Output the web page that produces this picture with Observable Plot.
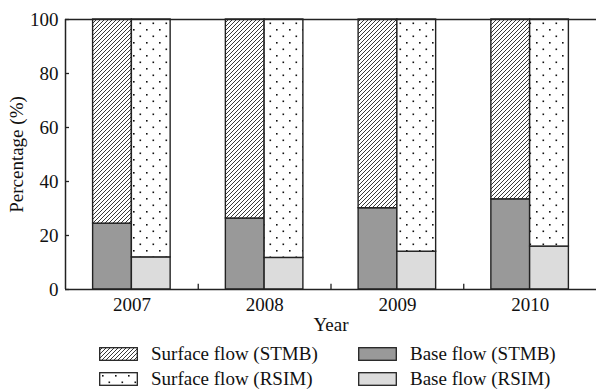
<!DOCTYPE html>
<html>
<head>
<meta charset="utf-8">
<script src="https://cdn.jsdelivr.net/npm/d3@7"></script>
<script src="https://cdn.jsdelivr.net/npm/@observablehq/plot@0.6"></script>
<style>
  html, body { margin: 0; padding: 0; background: #fff; }
  body { width: 596px; height: 389px; overflow: hidden; font-family: "Liberation Serif", "DejaVu Serif", serif; }
  #legend { position: relative; height: 53px; font-size: 19px; color: #111; }
  .item { position: absolute; display: flex; align-items: center; height: 22px; }
  .item svg { margin-right: 13px; }
</style>
</head>
<body>
<div id="chart"></div>
<div id="legend"></div>
<script>
// ---- data ----
const years = [2007, 2008, 2009, 2010];
const baseSTMB = [24.4, 26.3, 30.1, 33.4];
const baseRSIM = [11.9, 11.7, 14.0, 15.9];
const yTicks = [0, 20, 40, 60, 80, 100];
const seriesNames = ["Surface flow (STMB)", "Base flow (STMB)", "Surface flow (RSIM)", "Base flow (RSIM)"];

// build table
const rows = [];
years.forEach((yr, i) => {
  rows.push({year: yr, model: "STMB", part: "base", y1: 0, y2: baseSTMB[i]});
  rows.push({year: yr, model: "STMB", part: "surface", y1: baseSTMB[i], y2: 100});
  rows.push({year: yr, model: "RSIM", part: "base", y1: 0, y2: baseRSIM[i]});
  rows.push({year: yr, model: "RSIM", part: "surface", y1: baseRSIM[i], y2: 100});
});

const BW = 0.292;          // bar width in band units (style)
const X0 = years[0] - 0.5; // left edge of plot
const fills = {
  "STMB-surface": "url(#hatch)",
  "STMB-base": "#999999",
  "RSIM-surface": "url(#dots)",
  "RSIM-base": "#dcdcdc"
};
const ink = "#222";

const chart = Plot.plot({
  width: 596,
  height: 336,
  marginLeft: 65,
  marginRight: 0,
  marginTop: 19,
  marginBottom: 47,
  style: {fontFamily: "Liberation Serif, serif", fontSize: "19px", color: "#111", background: "#fff"},
  x: {type: "linear", domain: [X0, years[years.length - 1] + 0.5]},
  y: {type: "linear", domain: [0, 100]},
  marks: [
    Plot.rectY(rows, {
      x1: d => d.model === "STMB" ? d.year - BW : d.year,
      x2: d => d.model === "STMB" ? d.year : d.year + BW,
      y1: "y1", y2: "y2",
      fill: d => fills[d.model + "-" + d.part],
      stroke: ink, strokeWidth: 1.4
    }),
    // frame lines
    Plot.ruleY([0, 100], {stroke: ink, strokeWidth: 1.5}),
    Plot.ruleX([X0], {stroke: ink, strokeWidth: 1.5}),
    // boundary ticks between years (inward)
    Plot.ruleX(years.slice(0, -1).map(y => y + 0.5), {y1: 0, y2: 1.9, stroke: ink, strokeWidth: 1.3}),
    // y ticks (inward)
    Plot.ruleY(yTicks, {x1: X0, x2: X0 + 0.03, stroke: ink, strokeWidth: 1.3}),
    Plot.axisY(yTicks, {tickSize: 0, tickPadding: 7, label: "Percentage (%)", labelAnchor: "center", labelArrow: "none", labelOffset: 56, fontSize: 19}),
    Plot.axisX(years, {tickSize: 0, tickPadding: 8, tickFormat: d => String(d), label: "Year", labelAnchor: "center", labelArrow: "none", labelOffset: 41, fontSize: 19})
  ]
});

// pattern defs
const ns = "http://www.w3.org/2000/svg";
const defs = document.createElementNS(ns, "defs");
defs.innerHTML = `
  <pattern id="hatch" patternUnits="userSpaceOnUse" width="4" height="4">
    <rect width="4" height="4" fill="#fff"/>
    <path d="M-1,1 l2,-2 M0,4 l4,-4 M3,5 l2,-2" stroke="#222" stroke-width="0.9"/>
  </pattern>
  <pattern id="dots" patternUnits="userSpaceOnUse" width="13" height="13">
    <rect width="13" height="13" fill="#fff"/>
    <rect x="3" y="3" width="1.6" height="1.6" fill="#111"/>
    <rect x="9.5" y="9.5" width="1.6" height="1.6" fill="#111"/>
  </pattern>`;
chart.insertBefore(defs, chart.firstChild);
document.getElementById("chart").appendChild(chart);

// legend
const legend = document.getElementById("legend");
const legendFill = [fills["STMB-surface"], fills["STMB-base"], fills["RSIM-surface"], fills["RSIM-base"]];
const pos = [[99, 7], [358, 7], [99, 32], [358, 32]];
seriesNames.forEach((name, i) => {
  const div = document.createElement("div");
  div.className = "item";
  div.style.left = pos[i][0] + "px";
  div.style.top = pos[i][1] + "px";
  div.innerHTML = `<svg width="39" height="14"><rect x="0.7" y="0.7" width="37.6" height="12.6" fill="${legendFill[i]}" stroke="#222" stroke-width="1.3"/></svg><span>${name}</span>`;
  legend.appendChild(div);
});
</script>
</body>
</html>
